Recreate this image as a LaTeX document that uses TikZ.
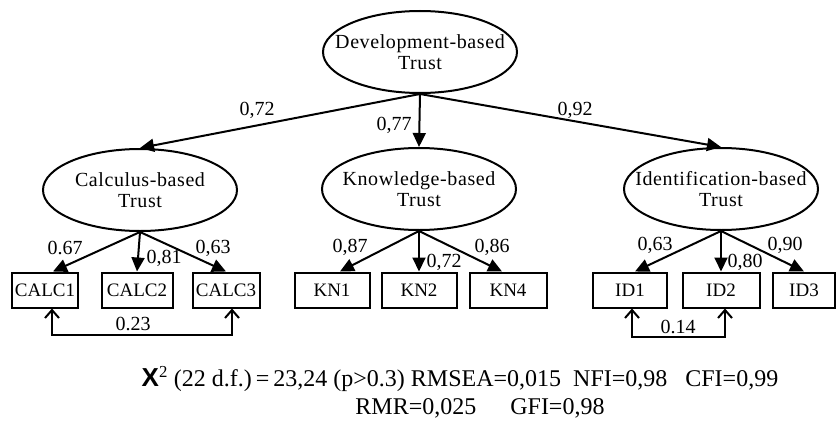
\documentclass[tikz,border=0pt]{standalone}
\usepackage{fontspec}
\setmainfont{Liberation Serif}
\newfontfamily\latentfont{Liberation Serif}[LetterSpace=3]
\newfontfamily\chifont{Liberation Sans}
\usetikzlibrary{arrows.meta,shapes.geometric}

\begin{document}
\begin{tikzpicture}[x=1pt,y=-1pt,
		font=\fontsize{20}{21}\selectfont,
		latent/.style={draw,ellipse,line width=2pt,minimum width=194pt,minimum height=82pt,inner xsep=-30pt,inner ysep=0pt,align=center,font=\latentfont\fontsize{20}{21}\selectfont},
		manifest/.style={draw,rectangle,line width=2pt,minimum width=#1,minimum height=35pt,inner sep=0pt,font=\fontsize{19}{21}\selectfont},
		manifest/.default=72pt,
		load/.style={line width=2pt,-{Triangle[length=14pt,width=13pt]}},
		corr/.style={line width=2pt,{Straight Barb[length=8pt,width=14pt]}-{Straight Barb[length=8pt,width=14pt]}},
		coef/.style={inner sep=0pt},
		fit/.style={font=\fontsize{24}{26}\selectfont}]
			\useasboundingbox (0,0) rectangle (837,428);
			% latent factors
			\node[latent] (dev) at (420,52) {Development-based\\Trust};
			\node[latent] (calc) at (140,190) {Calculus-based\\Trust};
			\node[latent] (know) at (419,189) {Knowledge-based\\Trust};
			\node[latent] (ident) at (721,189) {Identification-based\\Trust};
			% indicators
			\node[manifest=66pt] (c1) at (45,290) {CALC1};
			\node[manifest=71pt] (c2) at (137,290) {CALC2};
			\node[manifest=67pt] (c3) at (226,290) {CALC3};
			\node[manifest=75pt] (k1) at (332,290) {KN1};
			\node[manifest=75pt] (k2) at (419,290) {KN2};
			\node[manifest=77pt] (k4) at (508,290) {KN4};
			\node[manifest=74pt] (i1) at (630,290) {ID1};
			\node[manifest=77pt] (i2) at (721,290) {ID2};
			\node[manifest=62pt] (i3) at (804,290) {ID3};
			% second order loadings
			\draw[load] (dev.south) -- (calc.north);
			\draw[load] (dev.south) -- (know.north);
			\draw[load] (dev.south) -- (ident.north);
			\node[coef] (w1) at (257,110) {0,72};
			\node[coef] (w2) at (394,125) {0,77};
			\node[coef] (w3) at (575,110) {0,92};
			% first order loadings
			\draw[load] (calc.south) -- ([xshift=8pt]c1.north);
			\draw[load] (calc.south) -- (c2.north);
			\draw[load] (calc.south) -- (c3.north);
			\draw[load] (know.south) -- ([xshift=8pt]k1.north);
			\draw[load] (know.south) -- (k2.north);
			\draw[load] (know.south) -- ([xshift=-6pt]k4.north);
			\draw[load] (ident.south) -- ([xshift=5pt]i1.north);
			\draw[load] (ident.south) -- (i2.north);
			\draw[load] (ident.south) -- (i3.north);
			\node[coef] (lc1) at (65,248) {0.67};
			\node[coef] (lc2) at (164,258) {0,81};
			\node[coef] (lc3) at (213,248) {0,63};
			\node[coef] (lk1) at (350,247) {0,87};
			\node[coef] (lk2) at (444,262) {0,72};
			\node[coef] (lk4) at (492,247) {0,86};
			\node[coef] (li1) at (655,245) {0,63};
			\node[coef] (li2) at (745,262) {0,80};
			\node[coef] (li3) at (785,245) {0,90};
			% error covariances
			\coordinate (cbot) at (133,335);
			\coordinate (ibot) at (678,337);
			\draw[corr] ([xshift=7pt]c1.south) |- (cbot) -| ([xshift=6pt]c3.south);
			\draw[corr] ([xshift=2pt]i1.south) |- (ibot) -| ([xshift=4pt]i2.south);
			\node[coef,above=4pt] (rc) at (cbot) {0.23};
			\node[coef,above=3pt] (ri) at (ibot) {0.14};
			% fit indices
			\node[fit] (fit1) at (460,379) {{\chifont\bfseries\fontsize{26}{26}\selectfont X}\textsuperscript{2} (22 d.f.)\,=\,23,24 (p>0.3) RMSEA=0,015\ \ NFI=0,98\ \ \ CFI=0,99};
			\node[fit] (fit2) at (480,408) {RMR=0,025\hspace{34pt}GFI=0,98};
		\end{tikzpicture}
\end{document}
